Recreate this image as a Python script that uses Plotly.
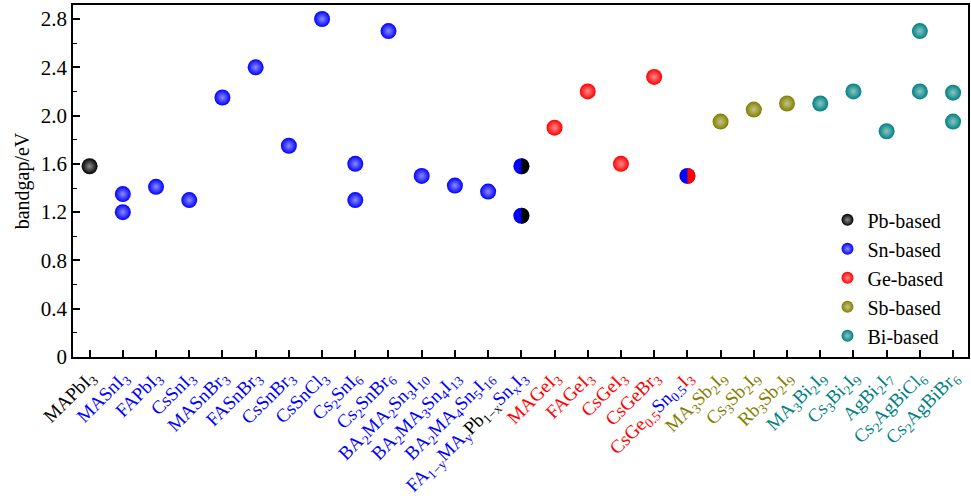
import plotly.graph_objects as go

# Compounds along the x axis, in display order
categories = [
    "MAPbI3", "MASnI3", "FAPbI3", "CsSnI3", "MASnBr3", "FASnBr3", "CsSnBr3",
    "CsSnCl3", "Cs2SnI6", "Cs2SnBr6", "BA2MA2Sn3I10", "BA2MA3Sn4I13",
    "BA2MA4Sn5I16", "FA1-yMAyPb1-xSnxI3", "MAGeI3", "FAGeI3", "CsGeI3",
    "CsGeBr3", "CsGe0.5Sn0.5I3", "MA3Sb2I9", "Cs3Sb2I9", "Rb3Sb2I9",
    "MA3Bi2I9", "Cs3Bi2I9", "AgBi2I7", "Cs2AgBiCl6", "Cs2AgBiBr6",
]

BLUE, BLACK, RED, OLIVE, TEAL = "#0000ff", "#000000", "#ff0000", "#808000", "#008080"

# Formatted tick labels (chemical formulae with subscripts, coloured by family)
def sp(text, color):
    return f'<span style="color:{color}">{text}</span>'

tick_labels = [
    sp("MAPbI<sub>3</sub>", BLACK),
    sp("MASnI<sub>3</sub>", BLUE),
    sp("FAPbI<sub>3</sub>", BLUE),
    sp("CsSnI<sub>3</sub>", BLUE),
    sp("MASnBr<sub>3</sub>", BLUE),
    sp("FASnBr<sub>3</sub>", BLUE),
    sp("CsSnBr<sub>3</sub>", BLUE),
    sp("CsSnCl<sub>3</sub>", BLUE),
    sp("Cs<sub>2</sub>SnI<sub>6</sub>", BLUE),
    sp("Cs<sub>2</sub>SnBr<sub>6</sub>", BLUE),
    sp("BA<sub>2</sub>MA<sub>2</sub>Sn<sub>3</sub>I<sub>10</sub>", BLUE),
    sp("BA<sub>2</sub>MA<sub>3</sub>Sn<sub>4</sub>I<sub>13</sub>", BLUE),
    sp("BA<sub>2</sub>MA<sub>4</sub>Sn<sub>5</sub>I<sub>16</sub>", BLUE),
    sp("FA<sub>1−y</sub>MA<sub>y</sub>", BLUE) + sp("Pb<sub>1−x</sub>", BLACK)
    + sp("Sn<sub>x</sub>I<sub>3</sub>", BLUE),
    sp("MAGeI<sub>3</sub>", RED),
    sp("FAGeI<sub>3</sub>", RED),
    sp("CsGeI<sub>3</sub>", RED),
    sp("CsGeBr<sub>3</sub>", RED),
    sp("CsGe<sub>0.5</sub>", RED) + sp("Sn<sub>0.5</sub>", BLUE) + sp("I<sub>3</sub>", RED),
    sp("MA<sub>3</sub>Sb<sub>2</sub>I<sub>9</sub>", OLIVE),
    sp("Cs<sub>3</sub>Sb<sub>2</sub>I<sub>9</sub>", OLIVE),
    sp("Rb<sub>3</sub>Sb<sub>2</sub>I<sub>9</sub>", OLIVE),
    sp("MA<sub>3</sub>Bi<sub>2</sub>I<sub>9</sub>", TEAL),
    sp("Cs<sub>3</sub>Bi<sub>2</sub>I<sub>9</sub>", TEAL),
    sp("AgBi<sub>2</sub>I<sub>7</sub>", TEAL),
    sp("Cs<sub>2</sub>AgBiCl<sub>6</sub>", TEAL),
    sp("Cs<sub>2</sub>AgBiBr<sub>6</sub>", TEAL),
]

# Band gaps (eV) per family
pb_cats = ["MAPbI3"]
pb_vals = [1.58]

sn_cats = ["MASnI3", "MASnI3", "FAPbI3", "CsSnI3", "MASnBr3", "FASnBr3",
           "CsSnBr3", "CsSnCl3", "Cs2SnI6", "Cs2SnI6", "Cs2SnBr6",
           "BA2MA2Sn3I10", "BA2MA3Sn4I13", "BA2MA4Sn5I16"]
sn_vals = [1.35, 1.20, 1.41, 1.30, 2.15, 2.40, 1.75, 2.80, 1.60, 1.30, 2.70,
           1.50, 1.42, 1.37]

ge_cats = ["MAGeI3", "FAGeI3", "CsGeI3", "CsGeBr3"]
ge_vals = [1.90, 2.20, 1.60, 2.32]

sb_cats = ["MA3Sb2I9", "Cs3Sb2I9", "Rb3Sb2I9"]
sb_vals = [1.95, 2.05, 2.10]

bi_cats = ["MA3Bi2I9", "Cs3Bi2I9", "AgBi2I7", "Cs2AgBiCl6", "Cs2AgBiCl6",
           "Cs2AgBiBr6", "Cs2AgBiBr6"]
bi_vals = [2.10, 2.20, 1.87, 2.70, 2.20, 2.19, 1.95]

# Mixed-metal compounds: left half Sn (blue), right half the partner metal
mixed_cats = ["FA1-yMAyPb1-xSnxI3", "FA1-yMAyPb1-xSnxI3", "CsGe0.5Sn0.5I3"]
mixed_vals = [1.58, 1.17, 1.50]
mixed_right = [BLACK, BLACK, RED]

y_ticks = [0, 0.4, 0.8, 1.2, 1.6, 2.0, 2.4, 2.8]
y_tick_labels = ["0", "0.4", "0.8", "1.2", "1.6", "2.0", "2.4", "2.8"]

FONT = "Liberation Serif, Times New Roman, serif"
MSIZE = 16


def idx(cats):
    return [categories.index(c) for c in cats]


def lighten(hex_color, f):
    r, g, b = (int(hex_color[i:i + 2], 16) for i in (1, 3, 5))
    r, g, b = (int(v + (255 - v) * f) for v in (r, g, b))
    return f"rgb({r},{g},{b})"


fig = go.Figure()

groups = [
    ("Pb-based", pb_cats, pb_vals, BLACK),
    ("Sn-based", sn_cats, sn_vals, BLUE),
    ("Ge-based", ge_cats, ge_vals, RED),
    ("Sb-based", sb_cats, sb_vals, OLIVE),
    ("Bi-based", bi_cats, bi_vals, TEAL),
]

for name, cats, vals, color in groups:
    fig.add_trace(go.Scatter(
        x=idx(cats), y=vals, mode="markers", name=name,
        marker=dict(size=MSIZE, color=color,
                    gradient=dict(type="radial", color=lighten(color, 0.55)),
                    line=dict(width=0)),
    ))

fig.add_trace(go.Scatter(
    x=idx(mixed_cats), y=mixed_vals, mode="markers", showlegend=False,
    marker=dict(size=MSIZE, color=BLUE, line=dict(width=0)),
))

# Right-hand half of each mixed marker
r = MSIZE / 2
k = 0.5523 * r
half_path = (f"M 0,{-r} C {k},{-r} {r},{-k} {r},0 "
             f"C {r},{k} {k},{r} 0,{r} Z")
for xi, yv, col in zip(idx(mixed_cats), mixed_vals, mixed_right):
    fig.add_shape(type="path", path=half_path,
                  xsizemode="pixel", ysizemode="pixel",
                  xanchor=xi, yanchor=yv, xref="x", yref="y",
                  fillcolor=col, line=dict(width=0), layer="above")

fig.update_layout(
    width=971, height=500,
    margin=dict(l=73, r=3, t=5, b=143, autoexpand=False),
    paper_bgcolor="white", plot_bgcolor="white",
    font=dict(family=FONT, size=20, color="black"),
    showlegend=True,
    legend=dict(x=0.843, y=0.445, xanchor="left", yanchor="top",
                bgcolor="rgba(0,0,0,0)", borderwidth=0,
                font=dict(family=FONT, size=20), itemsizing="constant",
                tracegroupgap=0),
    xaxis=dict(
        range=[-0.5, 26.45], tickmode="array", automargin=False,
        tickvals=list(range(len(categories))), ticktext=tick_labels,
        tickangle=-45, ticks="inside", ticklen=7, tickwidth=1.5,
        tickcolor="black", showline=True, linecolor="black", linewidth=1.5,
        mirror=True, showgrid=False, zeroline=False,
        tickfont=dict(family=FONT, size=19),
    ),
    yaxis=dict(
        range=[0, 2.916], tickmode="array", tickvals=y_ticks, automargin=False,
        ticktext=y_tick_labels, ticks="inside", ticklen=7, tickwidth=1.5,
        tickcolor="black", showline=True, linecolor="black", linewidth=1.5,
        mirror=True, showgrid=False, zeroline=False,
        tickfont=dict(family=FONT, size=21),
        title=dict(text="bandgap/eV", font=dict(family=FONT, size=20),
                   standoff=6),
        minor=dict(ticks="inside", ticklen=4, tickwidth=1, dtick=0.2,
                   tickcolor="black", showgrid=False),
    ),
)

fig.write_html("out.html")
